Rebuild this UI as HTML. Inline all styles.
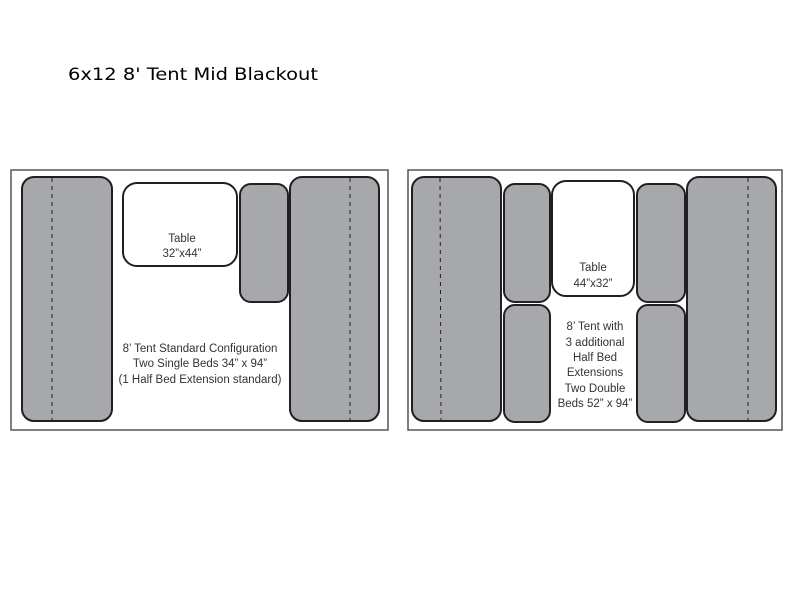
<!DOCTYPE html>
<html><head><meta charset="utf-8"><style>
body{margin:0;background:#fff;width:800px;height:600px;overflow:hidden}
</style></head><body>
<svg width="800" height="600" xmlns="http://www.w3.org/2000/svg" font-family="Liberation Sans, sans-serif">
<rect width="800" height="600" fill="#fff"/>
<text x="68" y="80" font-family="DejaVu Sans, sans-serif" font-size="17" fill="#000" textLength="250" lengthAdjust="spacingAndGlyphs">6x12 8' Tent Mid Blackout</text>
<g stroke="#231f20" stroke-width="2">
<rect x="11" y="170" width="377" height="260" fill="#fff" stroke="#555" stroke-width="1.5"/>
<rect x="22" y="177" width="90" height="244" rx="12" fill="#a7a8ab"/>
<rect x="123" y="183" width="114" height="83" rx="14" fill="#fff"/>
<rect x="240" y="184" width="48" height="118" rx="11" fill="#a7a8ab"/>
<rect x="290" y="177" width="89" height="244" rx="12" fill="#a7a8ab"/>
<rect x="408" y="170" width="374" height="260" fill="#fff" stroke="#555" stroke-width="1.5"/>
<rect x="412" y="177" width="89" height="244" rx="12" fill="#a7a8ab"/>
<rect x="504" y="184" width="46" height="118" rx="11" fill="#a7a8ab"/>
<rect x="504" y="305" width="46" height="117" rx="11" fill="#a7a8ab"/>
<rect x="552" y="181" width="82" height="115" rx="14" fill="#fff"/>
<rect x="637" y="184" width="48" height="118" rx="11" fill="#a7a8ab"/>
<rect x="637" y="305" width="48" height="117" rx="11" fill="#a7a8ab"/>
<rect x="687" y="177" width="89" height="244" rx="12" fill="#a7a8ab"/>
</g>
<g stroke="#231f20" stroke-width="1" stroke-dasharray="4,4">
<line x1="52" y1="178" x2="52" y2="420"/>
<line x1="350" y1="178" x2="350" y2="420"/>
<line x1="440" y1="178" x2="441" y2="420"/>
<line x1="748" y1="178" x2="748" y2="420"/>
</g>
<g font-size="11.5" fill="#333" text-anchor="middle">
<text x="182" y="242">Table</text>
<text x="182" y="257">32”x44”</text>
<text x="200" y="352">8’ Tent Standard Configuration</text>
<text x="200" y="367">Two Single Beds 34” x 94”</text>
<text x="200" y="383">(1 Half Bed Extension standard)</text>
<text x="593" y="271">Table</text>
<text x="593" y="287">44”x32”</text>
<text x="595" y="330">8’ Tent with</text>
<text x="595" y="346">3 additional</text>
<text x="595" y="361">Half Bed</text>
<text x="595" y="376">Extensions</text>
<text x="595" y="392">Two Double</text>
<text x="595" y="407">Beds 52” x 94”</text>
</g>
</svg>
</body></html>
